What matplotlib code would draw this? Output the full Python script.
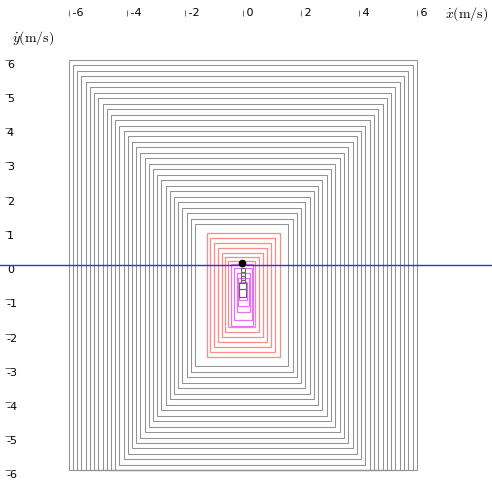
import matplotlib
matplotlib.use('Agg')
import matplotlib.pyplot as plt
from matplotlib.patches import Rectangle

plt.rcParams['axes.unicode_minus'] = False
plt.rcParams['mathtext.fontset'] = 'cm'

# velocity bound boxes, outer to inner (left, right, top, bottom)
gray_left = [-6.00, -5.86, -5.71, -5.57, -5.42, -5.28, -5.13, -4.99, -4.84, -4.70,
             -4.55, -4.41, -4.26, -4.12, -3.97, -3.83, -3.68, -3.54, -3.39, -3.25,
             -3.10, -2.96, -2.81, -2.67, -2.52, -2.38, -2.23, -2.09, -1.94, -1.80, -1.65]
gray_right = [6.00, 5.85, 5.70, 5.56, 5.41, 5.26, 5.11, 4.96, 4.82, 4.67,
              4.52, 4.37, 4.22, 4.08, 3.93, 3.78, 3.63, 3.48, 3.34, 3.19,
              3.04, 2.89, 2.74, 2.60, 2.45, 2.30, 2.15, 2.00, 1.86, 1.71, 1.56]
gray_top = [6.00, 5.84, 5.68, 5.52, 5.36, 5.20, 5.04, 4.88, 4.72, 4.56,
            4.40, 4.24, 4.08, 3.92, 3.76, 3.60, 3.44, 3.28, 3.12, 2.96,
            2.80, 2.64, 2.48, 2.32, 2.16, 2.00, 1.84, 1.68, 1.52, 1.36, 1.20]
gray_bottom = [-6.00, -6.00, -6.00, -6.00, -6.00, -6.00, -6.00, -6.00, -6.00, -6.00,
               -6.00, -6.00, -5.84, -5.68, -5.52, -5.36, -5.20, -5.04, -4.88, -4.72,
               -4.56, -4.40, -4.24, -4.08, -3.92, -3.76, -3.60, -3.44, -3.28, -3.12, -2.96]

red_left = [-1.25, -1.14, -1.00, -0.85, -0.74, -0.62, -0.51]
red_right = [1.28, 1.10, 0.97, 0.82, 0.68, 0.55, 0.41]
red_top = [0.94, 0.79, 0.64, 0.50, 0.35, 0.23, 0.12]
red_bottom = [-2.69, -2.54, -2.40, -2.25, -2.10, -1.96, -1.81]

mag_left = [-0.41, -0.31, -0.21, -0.17, -0.14]
mag_right = [0.34, 0.31, 0.24, 0.21, 0.14]
mag_top = [0.03, -0.09, -0.23, -0.38, -0.50]
mag_bottom = [-1.78, -1.61, -1.37, -1.20, -1.02]

# small boxes along the centre column
box_left = [-0.07, -0.07, -0.07, -0.07, -0.12, -0.12]
box_right = [0.07, 0.07, 0.07, 0.07, 0.12, 0.12]
box_top = [-0.09, -0.20, -0.32, -0.44, -0.52, -0.70]
box_bottom = [-0.20, -0.32, -0.44, -0.52, -0.70, -0.93]

start_vx = [-0.05]
start_vy = [0.05]

ticks_x = [-6, -4, -2, 0, 2, 4, 6]
ticks_y = [-6, -5, -4, -3, -2, -1, 0, 1, 2, 3, 4, 5, 6]

fig = plt.figure(figsize=(4.92, 4.83), dpi=100)
ax = fig.add_axes([0, 0, 1, 1])
ax.set_xlim(-8.38, 8.59)
ax.set_ylim(-6.37, 7.75)


def draw_boxes(lefts, rights, tops, bottoms, color, lw):
    for l, r, t, b in zip(lefts, rights, tops, bottoms):
        ax.add_patch(Rectangle((l, b), r - l, t - b, fill=False,
                               edgecolor=color, linewidth=lw))


draw_boxes(gray_left, gray_right, gray_top, gray_bottom, '#929292', 0.75)
draw_boxes(red_left, red_right, red_top, red_bottom, '#ff8a8a', 0.9)
draw_boxes(mag_left, mag_right, mag_top, mag_bottom, '#e870f5', 0.9)
draw_boxes(box_left, box_right, box_top, box_bottom, '#666666', 0.8)

ax.axhline(0, color='#3030e0', linewidth=1.0)
ax.plot(start_vx, start_vy, 'o', color='black', markersize=4.5)

# axes: ticks only, spines hidden and moved inside the frame
for side in ['top', 'bottom', 'left', 'right']:
    ax.spines[side].set_color('none')
ax.spines['top'].set_position(('data', 7.37))
ax.spines['left'].set_position(('data', -8.12))
ax.xaxis.tick_top()
ax.set_xticks(ticks_x)
ax.set_xticklabels([' %d' % v for v in ticks_x])
ax.set_yticks(ticks_y)
ax.set_yticklabels(['%d' % v for v in ticks_y])
ax.tick_params(axis='x', direction='inout', length=4, width=0.6,
               color='#555555', pad=-2, labelsize=8)
ax.tick_params(axis='y', direction='inout', length=4, width=0.6,
               color='#555555', pad=-1.5, labelsize=8)
for lab in ax.get_xticklabels():
    lab.set_ha('left')
    lab.set_va('center')
for lab in ax.get_yticklabels():
    lab.set_ha('left')
    lab.set_va('top')

ax.text(0.949, 0.971, r'$\dot{x}(\mathrm{m/s})$', transform=ax.transAxes,
        ha='center', va='center', fontsize=10)
ax.text(0.068, 0.921, r'$\dot{y}(\mathrm{m/s})$', transform=ax.transAxes,
        ha='center', va='center', fontsize=10)

fig.savefig('out.png', dpi=100)
